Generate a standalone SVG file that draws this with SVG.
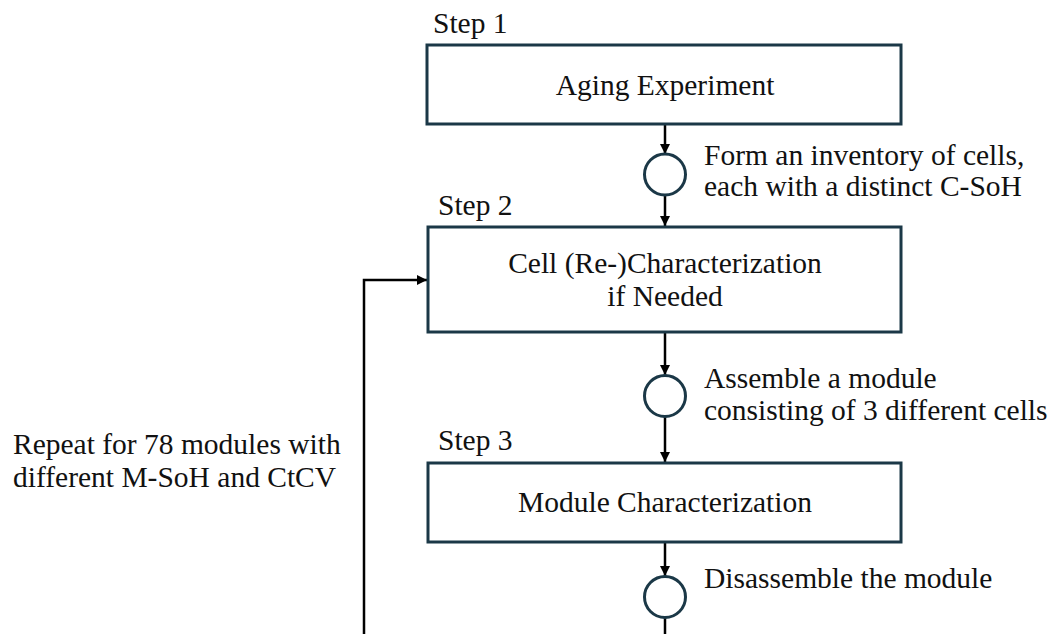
<svg xmlns="http://www.w3.org/2000/svg" width="1056" height="634" viewBox="0 0 1056 634">
<style>
.box{fill:#fff;stroke:#1b3847;stroke-width:3}
.circ{fill:#fff;stroke:#1b3847;stroke-width:3}
.ln{fill:none;stroke:#000;stroke-width:2.5}
text{font-family:"Liberation Serif","Times New Roman",serif;font-size:29.5px;fill:#111}
.c{text-anchor:middle}
</style>
<defs>
<marker id="ah" viewBox="0 0 10 10" refX="10" refY="5" markerWidth="4" markerHeight="4" orient="auto" markerUnits="strokeWidth">
<path d="M0,0 L10,5 L0,10 z" fill="#000"/>
</marker>
</defs>
<rect width="1056" height="634" fill="#fff"/>
<g id="connectors">
<line class="ln" x1="665" y1="124" x2="665" y2="154" marker-end="url(#ah)"/>
<line class="ln" x1="665" y1="195" x2="665" y2="226" marker-end="url(#ah)"/>
<line class="ln" x1="665" y1="332" x2="665" y2="375" marker-end="url(#ah)"/>
<line class="ln" x1="665" y1="417" x2="665" y2="462" marker-end="url(#ah)"/>
<line class="ln" x1="665" y1="542" x2="665" y2="576" marker-end="url(#ah)"/>
<line class="ln" x1="665" y1="618" x2="665" y2="640"/>
<polyline class="ln" points="364,640 364,280 427,280" marker-end="url(#ah)"/>
</g>
<g id="step1">
<text x="433" y="33">Step 1</text>
<rect class="box" x="427" y="45" width="474" height="79"/>
<text class="c" x="665" y="95">Aging Experiment</text>
</g>
<g id="circle1">
<circle class="circ" cx="665" cy="174.5" r="20.5"/>
<text x="704" y="165">Form an inventory of cells,</text>
<text x="704" y="196">each with a distinct C-SoH</text>
</g>
<g id="step2">
<text x="438" y="215">Step 2</text>
<rect class="box" x="428" y="227" width="473" height="105"/>
<text class="c" x="665" y="273">Cell (Re-)Characterization</text>
<text class="c" x="665" y="306">if Needed</text>
</g>
<g id="circle2">
<circle class="circ" cx="665" cy="396" r="20.5"/>
<text x="704" y="388">Assemble a module</text>
<text x="704" y="420">consisting of 3 different cells</text>
</g>
<g id="step3">
<text x="438" y="450">Step 3</text>
<rect class="box" x="428" y="463" width="473" height="79"/>
<text class="c" x="665" y="512">Module Characterization</text>
</g>
<g id="circle3">
<circle class="circ" cx="665" cy="597" r="20.5"/>
<text x="704" y="588">Disassemble the module</text>
</g>
<g id="repeat-label">
<text x="13" y="454">Repeat for 78 modules with</text>
<text x="13" y="487">different M-SoH and CtCV</text>
</g>
</svg>
